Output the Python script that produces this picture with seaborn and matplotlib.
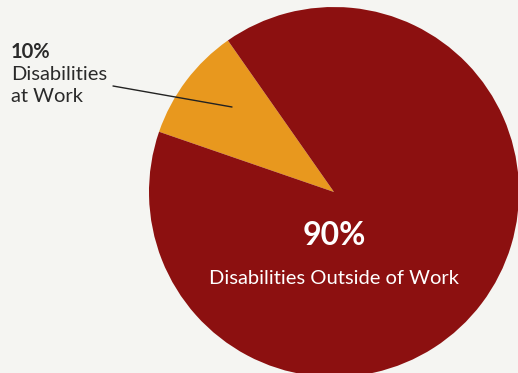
import matplotlib
matplotlib.use("Agg")
import matplotlib.pyplot as plt
import seaborn as sns

categories = ["Disabilities at Work", "Disabilities Outside of Work"]
values = [10, 90]
pct_labels = ["10%", "90%"]
colors = ["#E8981E", "#8C1010"]
bg = "#F5F5F2"

sns.set_style("white")
plt.rcParams['font.family'] = ['Lato', 'DejaVu Sans']

W, H = 518, 373
fig = plt.figure(figsize=(W / 100, H / 100), dpi=100, facecolor=bg)
ax = fig.add_axes([0, 0, 1, 1])
ax.set_facecolor(bg)

cx, cy, r = 334, 192, 185
ax.pie(values, colors=colors, startangle=125, counterclock=True, radius=1,
       wedgeprops=dict(linewidth=0))
ax.set_xlim(-cx / r, (W - cx) / r)
ax.set_ylim((cy - H) / r, cy / r)
ax.set_aspect('auto')
ax.axis('off')

# 90% label inside
ax.text(0, (cy - 235) / r, pct_labels[1], color="white", fontsize=23,
        fontweight="bold", ha="center", va="center")
ax.text(0, (cy - 278) / r, categories[1], color="white", fontsize=14.5,
        ha="center", va="center")

# 10% label outside with leader line
ax.plot([(113 - cx) / r, (232 - cx) / r], [(cy - 86) / r, (cy - 107) / r],
        color="#222222", lw=1)
fig.text(11 / W, 1 - 52 / H, pct_labels[0], color="#2a2a2a", fontsize=14.5,
         fontweight="bold", ha="left", va="center")
fig.text(11 / W, 1 - 75 / H, "Disabilities", color="#2a2a2a", fontsize=14.5,
         ha="left", va="center")
fig.text(11 / W, 1 - 96 / H, "at Work", color="#2a2a2a", fontsize=14.5,
         ha="left", va="center")

fig.savefig("out.png", dpi=100, facecolor=bg)
